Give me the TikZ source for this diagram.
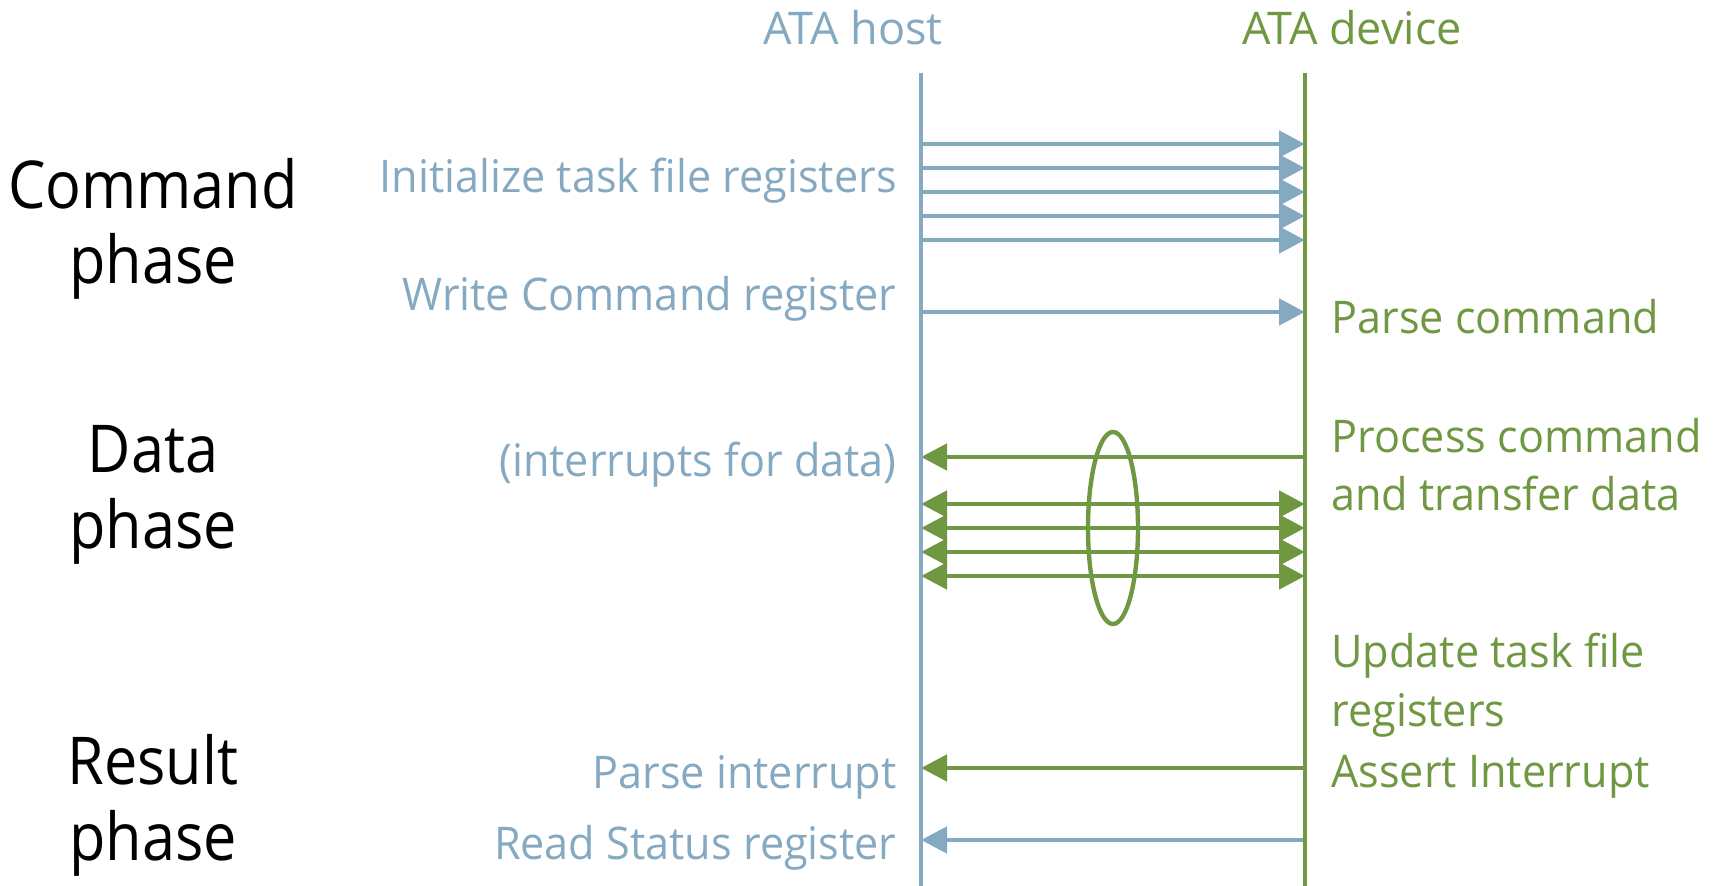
\documentclass[tikz,border=0pt]{standalone}
\usepackage{fontspec}
\setmainfont{Open Sans}
\newfontfamily\labelfont[FakeStretch=0.96]{Open Sans}
\newfontfamily\phasefont[FakeStretch=0.9]{Open Sans}
\usetikzlibrary{arrows.meta,shapes.geometric}
\definecolor{hostblue}{RGB}{134,169,194}
\definecolor{devgreen}{RGB}{112,152,66}
\tikzset{
  lbl/.style={font=\labelfont\fontsize{22.5}{27}\selectfont, inner sep=0pt},
  hostlbl/.style={lbl, text=hostblue, anchor=base east},
  devlbl/.style={lbl, text=devgreen, anchor=base west},
  headlbl/.style={font=\fontsize{22.5}{27}\selectfont, inner sep=0pt, anchor=base},
  phaselbl/.style={font=\phasefont\fontsize{33}{40}\selectfont, inner sep=0pt, anchor=base, text=black},
  msg/.style={line width=2.4pt, -{Triangle[length=13pt,width=13pt]}},
  dmsg/.style={line width=2.4pt, {Triangle[length=13pt,width=13pt]}-{Triangle[length=13pt,width=13pt]}},
  life/.style={line width=2pt},
}
\begin{document}
\begin{tikzpicture}[x=0.5pt,y=-0.5pt]
\useasboundingbox (0,0) rectangle (1715,886);
% lifeline end points
\coordinate (htop) at (921,73);
\coordinate (hbot) at (921,886);
\coordinate (dtop) at (1305,73);
\coordinate (dbot) at (1305,886);
\foreach \n/\y in {a/144,b/168,c/192,d/216,e/240,w/312,i/457,t1/504,t2/528,t3/552,t4/576,p/768,r/840}{
  \coordinate (h\n) at (921,\y);
  \coordinate (d\n) at (1305,\y);
}
% headers
\node[headlbl, text=hostblue] (hosthead) at (853,45) {ATA host};
\node[headlbl, text=devgreen] (devhead) at (1352,45) {ATA device};
% phases
\node[phaselbl] (cmd1) at (153,209) {Command};
\node[phaselbl] (cmd2) at (153,284) {phase};
\node[phaselbl] (dat1) at (153,473) {Data};
\node[phaselbl] (dat2) at (153,549) {phase};
\node[phaselbl] (res1) at (153,785) {Result};
\node[phaselbl] (res2) at (153,861) {phase};
% host labels
\node[hostlbl] (init) at (897,193) {Initialize task file registers};
\node[hostlbl] (wcr) at (897,311) {Write Command register};
\node[hostlbl] (intr) at (897,477) {(interrupts for data)};
\node[hostlbl] (pint) at (897,789) {Parse interrupt};
\node[hostlbl] (rsr) at (897,860) {Read Status register};
% device labels
\node[devlbl] (pcmd) at (1331,334) {Parse command};
\node[devlbl] (proc1) at (1331,453) {Process command};
\node[devlbl] (proc2) at (1331,511) {and transfer data};
\node[devlbl] (upd1) at (1331,668) {Update task file};
\node[devlbl] (upd2) at (1331,727) {registers};
\node[devlbl] (asrt) at (1331,788) {Assert Interrupt};
% messages
\foreach \n in {a,b,c,d,e,w}{
  \draw[msg, hostblue] (h\n) -- (d\n);
}
\draw[msg, devgreen] (di) -- (hi);
\foreach \n in {t1,t2,t3,t4}{
  \draw[dmsg, devgreen] (h\n) -- (d\n);
}
\draw[msg, devgreen] (dp) -- (hp);
\draw[msg, hostblue] (dr) -- (hr);
% grouping ellipse
\node[ellipse, draw=devgreen, line width=2.2pt, inner sep=0pt,
      minimum width=25pt, minimum height=96pt] (grp) at (1113,528) {};
% lifelines
\draw[life, hostblue] (htop) -- (hbot);
\draw[life, devgreen] (dtop) -- (dbot);
\end{tikzpicture}
\end{document}
